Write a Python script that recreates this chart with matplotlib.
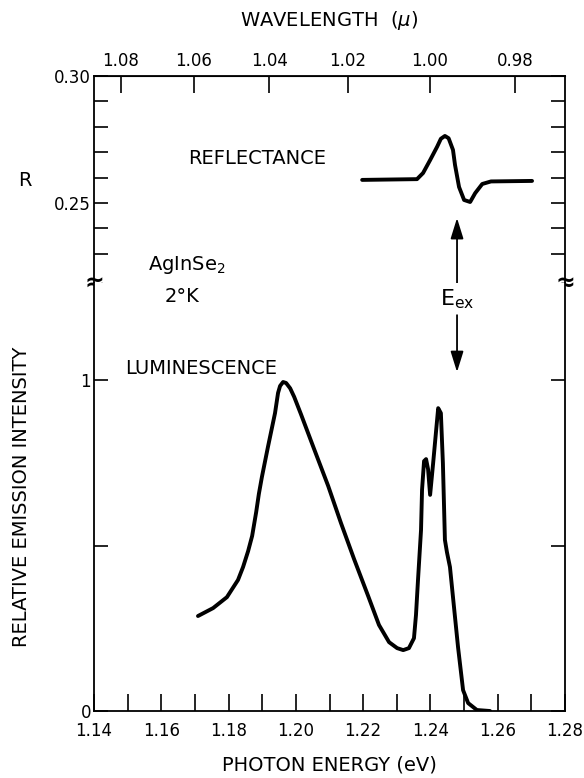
import numpy as np
import matplotlib
matplotlib.use("Agg")
import matplotlib.pyplot as plt
from matplotlib.ticker import MultipleLocator, FormatStrFormatter

# luminescence spectrum (photon energy in eV, relative intensity)
lum_energy = [1.1709, 1.1754, 1.1795, 1.1828, 1.1843, 1.1858, 1.1870, 1.1882,
              1.1890, 1.1899, 1.1917, 1.1938, 1.1947, 1.1953, 1.1962, 1.1971,
              1.1983, 1.1995, 1.2015, 1.2054, 1.2096, 1.2134, 1.2173, 1.2215,
              1.2247, 1.2277, 1.2301, 1.2319, 1.2336, 1.2351, 1.2357, 1.2363,
              1.2372, 1.2375, 1.2381, 1.2387, 1.2393, 1.2399, 1.2408, 1.2417,
              1.2423, 1.2431, 1.2437, 1.2443, 1.2449, 1.2458, 1.2467, 1.2482,
              1.2497, 1.2512, 1.2538, 1.2577]
lum_intensity = [0.287, 0.311, 0.344, 0.396, 0.435, 0.483, 0.529, 0.601,
                 0.656, 0.707, 0.798, 0.900, 0.961, 0.982, 0.994, 0.991,
                 0.975, 0.949, 0.897, 0.792, 0.680, 0.568, 0.459, 0.347,
                 0.260, 0.208, 0.190, 0.184, 0.190, 0.220, 0.290, 0.396,
                 0.547, 0.668, 0.755, 0.761, 0.730, 0.653, 0.749, 0.849,
                 0.915, 0.900, 0.749, 0.517, 0.480, 0.435, 0.344, 0.193,
                 0.063, 0.024, 0.003, 0.0]

# reflectance spectrum
refl_energy = [1.2197, 1.2360, 1.2378, 1.2399, 1.2420, 1.2431, 1.2443, 1.2454,
               1.2467, 1.2473, 1.2485, 1.2500, 1.2518, 1.2533, 1.2554, 1.2580,
               1.2702]
refl_R = [0.2591, 0.2594, 0.2618, 0.2669, 0.2722, 0.2753, 0.2764, 0.2755,
          0.2709, 0.2650, 0.2563, 0.2512, 0.2504, 0.2539, 0.2575, 0.2585,
          0.2587]

e_ex = 1.2479
wl_ticks = [1.08, 1.06, 1.04, 1.02, 1.00, 0.98]
hc = 1.2398  # eV * micron

plt.rcParams['font.family'] = ['DejaVu Sans']
fs = 14

fig = plt.figure(figsize=(5.84, 7.78), dpi=100)
ax_top = fig.add_axes([0.161, 0.6362, 0.8065, 0.2661])
ax_bot = fig.add_axes([0.161, 0.0861, 0.8065, 0.5501])

for ax in (ax_top, ax_bot):
    ax.set_xlim(1.14, 1.28)
    for s in ax.spines.values():
        s.set_linewidth(1.3)

ax_top.spines['bottom'].set_visible(False)
ax_bot.spines['top'].set_visible(False)

# reflectance panel
ax_top.plot(refl_energy, refl_R, color='black', lw=2.8, solid_capstyle='round',
            solid_joinstyle='round')
ax_top.set_ylim(0.2185, 0.30)
ax_top.set_yticks([0.23, 0.24, 0.25, 0.26, 0.27, 0.28, 0.29, 0.30])
ax_top.set_yticklabels(['', '', '0.25', '', '', '', '', '0.30'], fontsize=12)
ax_top.tick_params(axis='y', direction='in', length=10, width=1.2, right=True, pad=2)
ax_top.tick_params(axis='x', bottom=False, labelbottom=False, top=False)

sec = ax_top.secondary_xaxis('top', functions=(lambda e: hc / e, lambda l: hc / l))
sec.set_xticks(wl_ticks)
sec.set_xticklabels([f'{w:.2f}' for w in wl_ticks], fontsize=12)
sec.tick_params(direction='in', length=12, width=1.2, pad=4)
sec.set_xlabel('WAVELENGTH  ($\\mu$)', fontsize=fs, labelpad=19)

ax_top.text(1.1174, 0.2587, 'R', fontsize=fs, ha='left', va='center', clip_on=False)
ax_top.text(1.1679, 0.2677, 'REFLECTANCE', fontsize=fs, ha='left', va='center')
ax_top.text(1.1561, 0.2256, 'AgInSe$_2$', fontsize=fs, ha='left', va='center')

# luminescence panel
ax_bot.plot(lum_energy, lum_intensity, color='black', lw=2.8, solid_capstyle='round',
            solid_joinstyle='round')
ax_bot.set_ylim(0, 1.293)
ax_bot.set_yticks([0, 0.5, 1])
ax_bot.set_yticklabels(['0', '', '1'], fontsize=12)
ax_bot.tick_params(axis='y', direction='in', length=10, width=1.2, right=True, pad=2)
ax_bot.xaxis.set_major_locator(MultipleLocator(0.02))
ax_bot.xaxis.set_minor_locator(MultipleLocator(0.01))
ax_bot.xaxis.set_major_formatter(FormatStrFormatter('%.2f'))
ax_bot.tick_params(axis='x', which='both', direction='in', length=12, width=1.2,
                   labelsize=12, pad=8)
ax_bot.set_xlabel('PHOTON ENERGY (eV)', fontsize=fs, labelpad=11)
ax_bot.set_ylabel('RELATIVE EMISSION INTENSITY', fontsize=fs, labelpad=36)

ax_bot.text(1.1611, 1.251, '2°K', fontsize=fs, ha='left', va='center')
ax_bot.text(1.1492, 1.036, 'LUMINESCENCE', fontsize=fs, ha='left', va='center')

# exciton energy marker
arrow = dict(arrowstyle='-|>,head_length=0.9,head_width=0.28', color='black',
             lw=1.3, mutation_scale=14, shrinkA=0, shrinkB=0)
ax_top.annotate('', xy=(e_ex, 0.2441), xytext=(e_ex, 0.2185), arrowprops=arrow,
                annotation_clip=False)
ax_bot.annotate('', xy=(e_ex, 1.024), xytext=(e_ex, 1.196), arrowprops=arrow)
ax_bot.text(e_ex, 1.245, 'E$_{\\mathregular{ex}}$', fontsize=fs + 2, ha='center', va='center')

# axis break marks
for x in (0, 1):
    ax_top.text(x, 0, '≈', transform=ax_top.transAxes, fontsize=17, fontweight='bold',
                ha='center', va='center')

fig.savefig('out.png', dpi=100)
